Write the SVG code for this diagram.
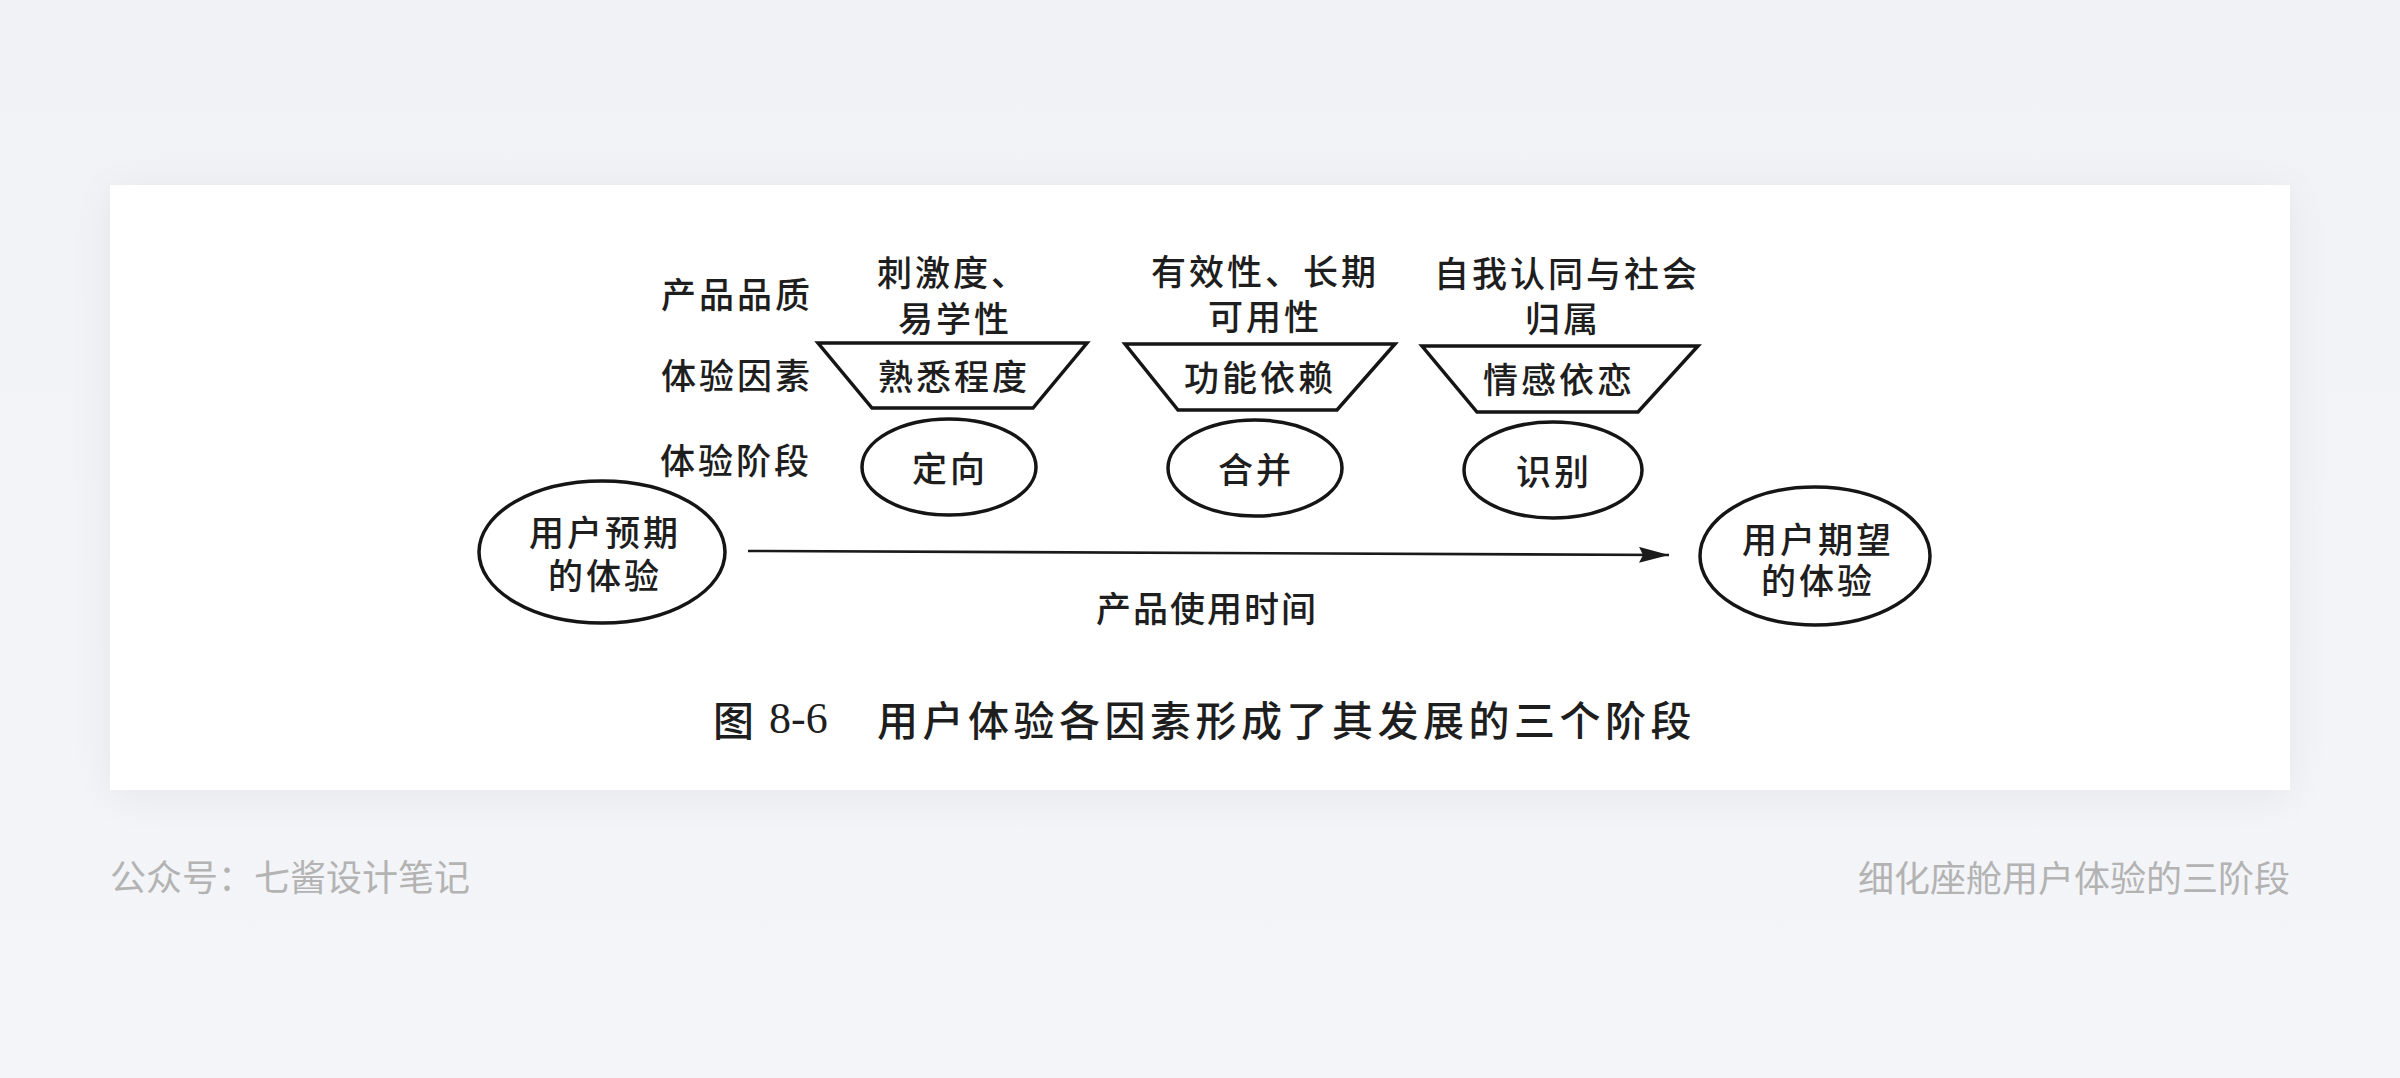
<svg xmlns="http://www.w3.org/2000/svg" width="2400" height="1078" viewBox="0 0 2400 1078">
  <defs>
    <linearGradient id="bg" x1="0" y1="0" x2="0" y2="1">
      <stop offset="0" stop-color="#f1f2f6"/>
      <stop offset="1" stop-color="#f4f5f8"/>
    </linearGradient>
    <filter id="shadow" x="-10%" y="-20%" width="120%" height="140%">
      <feGaussianBlur in="SourceAlpha" stdDeviation="22"/>
      <feOffset dy="6"/>
      <feComponentTransfer><feFuncA type="linear" slope="0.06"/></feComponentTransfer>
      <feMerge><feMergeNode/><feMergeNode in="SourceGraphic"/></feMerge>
    </filter>
    <marker id="arrow" markerUnits="userSpaceOnUse" markerWidth="32" markerHeight="18" refX="30" refY="8" orient="auto">
      <path d="M0,0 L30,8 L0,16 L4,8 Z" fill="#1a1a1a"/>
    </marker>
    <style>
      .t { font-family: "Noto Sans CJK SC", "Noto Sans", sans-serif; font-size: 35px; font-weight: 500; fill: #1e1e1e; letter-spacing: 3px; dominant-baseline: central; }
      .c { text-anchor: middle; }
      .shape { fill: none; stroke: #151515; stroke-width: 3.5; }
      .cap { font-family: "Noto Sans CJK SC", sans-serif; font-size: 41px; font-weight: 500; fill: #1e1e1e; dominant-baseline: central; letter-spacing: 4.5px; }
      .foot { font-family: "Noto Sans CJK SC", "Noto Sans", sans-serif; font-size: 36px; font-weight: 400; fill: #b3b3b3; dominant-baseline: central; }
    </style>
  </defs>

  <rect x="0" y="0" width="2400" height="1078" fill="url(#bg)"/>
  <rect id="card" x="110" y="185" width="2180" height="605" fill="#ffffff" filter="url(#shadow)"/>

  <g id="row-labels">
    <text class="t c" x="737" y="292">产品品质</text>
    <text class="t c" x="737" y="373">体验因素</text>
    <text class="t c" x="736" y="458">体验阶段</text>
  </g>

  <g id="quality-1">
    <text class="t"><tspan x="877" y="270">刺激度、</tspan><tspan class="c" x="955" y="316">易学性</tspan></text>
  </g>
  <g id="factor-1">
    <polygon class="shape" points="818,343 1087,343 1033,408 872,408"/>
    <text class="t c" x="954" y="374">熟悉程度</text>
  </g>
  <g id="stage-1">
    <ellipse class="shape" cx="949" cy="467" rx="87" ry="48"/>
    <text class="t c" x="950" y="466">定向</text>
  </g>

  <g id="quality-2">
    <text class="t c"><tspan x="1265" y="269">有效性、长期</tspan><tspan x="1265" y="314">可用性</tspan></text>
  </g>
  <g id="factor-2">
    <polygon class="shape" points="1125,344 1395,344 1337,410 1178,410"/>
    <text class="t c" x="1260" y="375">功能依赖</text>
  </g>
  <g id="stage-2">
    <ellipse class="shape" cx="1255" cy="468" rx="87" ry="48"/>
    <text class="t c" x="1256" y="467">合并</text>
  </g>

  <g id="quality-3">
    <text class="t c"><tspan x="1567" y="271">自我认同与社会</tspan><tspan x="1563" y="316">归属</tspan></text>
  </g>
  <g id="factor-3">
    <polygon class="shape" points="1422,346 1698,346 1638,412 1477,412"/>
    <text class="t c" x="1559" y="377">情感依恋</text>
  </g>
  <g id="stage-3">
    <ellipse class="shape" cx="1553" cy="470" rx="89" ry="48"/>
    <text class="t c" x="1554" y="469">识别</text>
  </g>

  <g id="start">
    <ellipse class="shape" cx="602" cy="552" rx="123" ry="71"/>
    <text class="t c"><tspan x="605" y="530">用户预期</tspan><tspan x="605" y="573">的体验</tspan></text>
  </g>

  <g id="end">
    <ellipse class="shape" cx="1815" cy="556" rx="115" ry="69"/>
    <text class="t c"><tspan x="1818" y="537">用户期望</tspan><tspan x="1818" y="578">的体验</tspan></text>
  </g>

  <g id="connectors">
    <line x1="748" y1="551" x2="1669" y2="555" stroke="#1a1a1a" stroke-width="2.6" marker-end="url(#arrow)"/>
    <text class="t c" x="1207" y="606" style="letter-spacing:2px">产品使用时间</text>
  </g>

  <g id="caption">
    <text class="cap" x="713" y="718">图</text>
    <text x="769" y="718" style="font-family:'Liberation Serif',serif;font-size:44px;fill:#1e1e1e;dominant-baseline:central">8-6</text>
    <text class="cap" x="877" y="718">用户体验各因素形成了其发展的三个阶段</text>
  </g>

  <g id="footer">
    <text class="foot" x="110" y="875">公众号：七酱设计笔记</text>
    <text class="foot" x="2290" y="876" text-anchor="end">细化座舱用户体验的三阶段</text>
  </g>
</svg>
